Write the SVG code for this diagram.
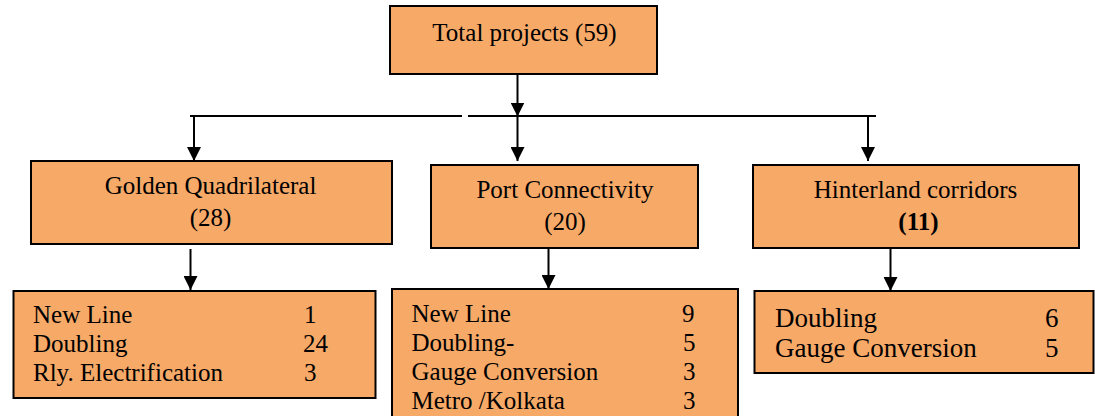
<svg xmlns="http://www.w3.org/2000/svg" width="1095" height="416" viewBox="0 0 1095 416">
  <style>
    .box { fill: #F7A968; stroke: #000; stroke-width: 2; }
    .lbl { font-family: "Liberation Serif", "Times New Roman", serif; font-size: 25px; fill: #000; }
    .big { font-size: 27px; }
    .mid { text-anchor: middle; }
    .b { font-weight: bold; }
    .conn { stroke: #000; stroke-width: 2; fill: none; }
  </style>
  <defs>
    <marker id="arrow" markerUnits="userSpaceOnUse" markerWidth="14" markerHeight="14" refX="14" refY="7" orient="auto">
      <path d="M0,0 L14,7 L0,14 Z" fill="#000"/>
    </marker>
  </defs>
  <rect width="1095" height="416" fill="#fff"/>

  <g id="connectors">
    <line class="conn" x1="517.5" y1="74" x2="517.5" y2="116.5" marker-end="url(#arrow)"/>
    <line class="conn" x1="190" y1="116" x2="462" y2="116"/>
    <line class="conn" x1="468" y1="116" x2="876" y2="116"/>
    <line class="conn" x1="194" y1="116" x2="194" y2="161" marker-end="url(#arrow)"/>
    <line class="conn" x1="517.5" y1="116" x2="517.5" y2="161" marker-end="url(#arrow)"/>
    <line class="conn" x1="868" y1="116" x2="868" y2="161" marker-end="url(#arrow)"/>
    <line class="conn" x1="190.5" y1="249" x2="190.5" y2="290" marker-end="url(#arrow)"/>
    <line class="conn" x1="548.5" y1="248" x2="548.5" y2="289" marker-end="url(#arrow)"/>
    <line class="conn" x1="890.5" y1="248" x2="890.5" y2="291" marker-end="url(#arrow)"/>
  </g>

  <g id="total">
    <rect class="box" x="390" y="6" width="267" height="68"/>
    <text class="lbl mid" x="524.5" y="41">Total projects (59)</text>
  </g>

  <g id="golden-quadrilateral">
    <rect class="box" x="31" y="161" width="361" height="83"/>
    <text class="lbl mid" x="210.5" y="194">Golden Quadrilateral</text>
    <text class="lbl mid" x="210.5" y="226">(28)</text>
  </g>

  <g id="port-connectivity">
    <rect class="box" x="431" y="165" width="267" height="83"/>
    <text class="lbl mid" x="565" y="198">Port Connectivity</text>
    <text class="lbl mid" x="565" y="230">(20)</text>
  </g>

  <g id="hinterland-corridors">
    <rect class="box" x="753" y="165" width="326" height="83"/>
    <text class="lbl mid" x="915.5" y="198">Hinterland corridors</text>
    <text class="lbl mid b" x="918.5" y="230">(11)</text>
  </g>

  <g id="golden-detail">
    <rect class="box" x="13.5" y="291" width="362" height="107"/>
    <text class="lbl" x="33" y="323">New Line</text>
    <text class="lbl" x="304" y="323">1</text>
    <text class="lbl" x="33" y="352">Doubling</text>
    <text class="lbl" x="303" y="352">24</text>
    <text class="lbl" x="33" y="381">Rly. Electrification</text>
    <text class="lbl" x="304" y="381">3</text>
  </g>

  <g id="port-detail">
    <rect class="box" x="392" y="289" width="346" height="140"/>
    <text class="lbl" x="411.5" y="322">New Line</text>
    <text class="lbl" x="682" y="322">9</text>
    <text class="lbl" x="411.5" y="351">Doubling-</text>
    <text class="lbl" x="683" y="351">5</text>
    <text class="lbl" x="411.5" y="380">Gauge Conversion</text>
    <text class="lbl" x="683" y="380">3</text>
    <text class="lbl" x="411.5" y="408.5">Metro /Kolkata</text>
    <text class="lbl" x="683" y="408.5">3</text>
  </g>

  <g id="hinterland-detail">
    <rect class="box" x="754.5" y="291" width="339" height="82"/>
    <text class="lbl big" x="775" y="327">Doubling</text>
    <text class="lbl big" x="1045" y="327">6</text>
    <text class="lbl big" x="775" y="357">Gauge Conversion</text>
    <text class="lbl big" x="1045" y="357">5</text>
  </g>
</svg>
